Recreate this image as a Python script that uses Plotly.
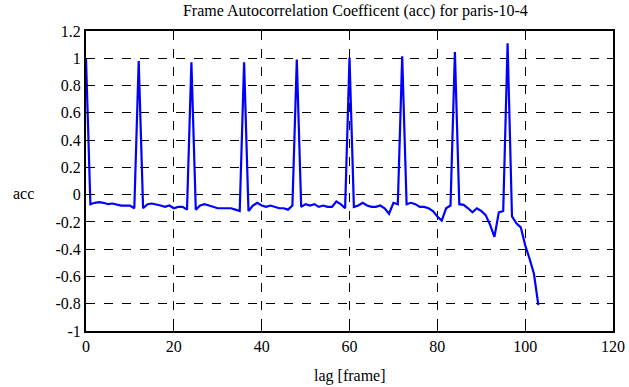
import plotly.graph_objects as go

lags = list(range(0, 104))
acc = [
    1.0, -0.07, -0.06, -0.055, -0.06, -0.07, -0.065, -0.075, -0.08, -0.08,
    -0.08, -0.1, 0.98, -0.1, -0.07, -0.065, -0.07, -0.08, -0.09, -0.08,
    -0.1, -0.09, -0.09, -0.11, 0.97, -0.11, -0.08, -0.07, -0.08, -0.09,
    -0.1, -0.1, -0.1, -0.1, -0.11, -0.12, 0.97, -0.12, -0.08, -0.06,
    -0.08, -0.09, -0.08, -0.09, -0.1, -0.1, -0.11, -0.08, 0.99, -0.09,
    -0.07, -0.08, -0.07, -0.09, -0.08, -0.09, -0.09, -0.05, -0.07, -0.1,
    1.005, -0.09, -0.08, -0.06, -0.08, -0.09, -0.09, -0.08, -0.1, -0.14,
    -0.06, -0.07, 1.015, -0.07, -0.06, -0.07, -0.09, -0.09, -0.1, -0.12,
    -0.16, -0.19, -0.1, -0.08, 1.045, -0.07, -0.075, -0.1, -0.13, -0.1,
    -0.12, -0.15, -0.22, -0.31, -0.13, -0.12, 1.11, -0.16, -0.21, -0.24,
    -0.37, -0.47, -0.58, -0.81,
]

x_ticks = [0, 20, 40, 60, 80, 100, 120]
y_ticks = [-1, -0.8, -0.6, -0.4, -0.2, 0, 0.2, 0.4, 0.6, 0.8, 1, 1.2]
y_tick_labels = ["-1", "-0.8", "-0.6", "-0.4", "-0.2", "0", "0.2", "0.4", "0.6", "0.8", "1", "1.2"]

font = dict(family="Liberation Serif, Times New Roman, serif", size=16, color="black")

fig = go.Figure()
fig.add_trace(go.Scatter(x=lags, y=acc, mode="lines",
                         line=dict(color="#0000ff", width=2.2), showlegend=False))

axis_common = dict(
    showline=True, linecolor="black", linewidth=2, mirror="ticks",
    ticks="inside", ticklen=6, tickcolor="black", tickwidth=1,
    showgrid=True, gridcolor="black", gridwidth=1, griddash="dash",
    zeroline=False, tickfont=font, automargin=False,
)

fig.update_xaxes(range=[0, 120], tickvals=x_ticks, ticktext=[str(v) for v in x_ticks], **axis_common)
fig.update_yaxes(range=[-1, 1.2], tickvals=y_ticks, ticktext=y_tick_labels, **axis_common)

fig.update_layout(
    width=629, height=387,
    margin=dict(l=86, r=16, t=31, b=56),
    paper_bgcolor="white", plot_bgcolor="white",
    font=font,
    title=dict(text="Frame Autocorrelation Coefficent (acc) for paris-10-4",
               x=0.565, xanchor="center", y=0.974, yanchor="middle", font=font),
    annotations=[
        dict(text="acc", xref="paper", yref="paper", x=-0.095, y=0.46,
             xanchor="right", yanchor="middle", showarrow=False, font=font),
        dict(text="lag [frame]", xref="paper", yref="paper", x=0.5, y=-0.112,
             xanchor="center", yanchor="top", showarrow=False, font=font),
    ],
)

fig.write_html("out.html", config={"displayModeBar": False},
               post_script="document.body.style.margin='0';")
